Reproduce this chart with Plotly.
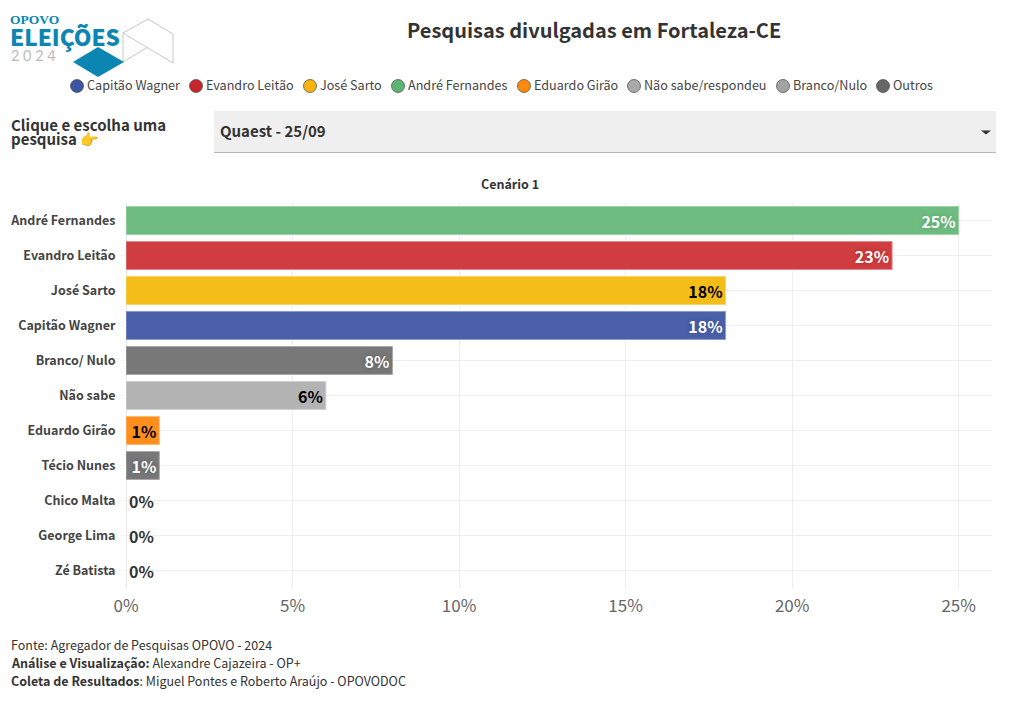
import plotly.graph_objects as go

W, H = 1020, 701
FONT = "Noto Sans CJK SC"
LEFT, RIGHT, TOP, BOTTOM = 126, 992, 203, 588

candidates = ["André Fernandes", "Evandro Leitão", "José Sarto", "Capitão Wagner", "Branco/ Nulo",
              "Não sabe", "Eduardo Girão", "Técio Nunes", "Chico Malta", "George Lima", "Zé Batista"]
values = [25, 23, 18, 18, 8, 6, 1, 1, 0, 0, 0]
bar_colors = ["#6fbc81", "#cf3d40", "#f4bd17", "#4a60a8", "#787878", "#b3b3b3", "#ff8f1c", "#787878",
              "#999999", "#999999", "#999999"]
bar_edges = ["#9fd3ab", "#e2898b", "#f8d468", "#8c9bc9", "#a9a9a9", "#d0d0d0", "#ffbb73", "#a9a9a9",
             "#e6e6e6", "#e6e6e6", "#e6e6e6"]
label_colors = ["#ffffff", "#ffffff", "#000000", "#ffffff", "#ffffff", "#000000", "#000000", "#ffffff",
                "#333333", "#333333", "#333333"]
label_shadows = ["0 0 4px #55a068", "0 0 4px #b02528", "none", "0 0 4px #35488f", "0 0 4px #555555", "none",
                 "none", "0 0 4px #555555", "none", "none", "none"]
legend_names = ["Capitão Wagner", "Evandro Leitão", "José Sarto", "André Fernandes", "Eduardo Girão",
                "Não sabe/respondeu", "Branco/Nulo", "Outros"]
legend_colors = ["#3b54a4", "#c8242b", "#f6b50e", "#5db574", "#ff8a0c", "#aaaaaa", "#a3a3a3", "#666666"]
legend_x = [77, 196, 310, 398, 524, 634, 783, 883]
x_ticks = [0, 5, 10, 15, 20, 25]
x_labels = ["0%", "5%", "10%", "15%", "20%", "25%"]
prompt_lines = ["<b>Clique e escolha uma</b>", "<b>pesquisa 👉</b>"]
footer_lines = ["Fonte: Agregador de Pesquisas OPOVO - 2024",
                "<b>Análise e Visualização:</b> Alexandre Cajazeira - OP+",
                "<b>Coleta de Resultados</b>: Miguel Pontes e Roberto Araújo - OPOVODOC"]


def px(x):
    return (x - LEFT) / (RIGHT - LEFT)


def py(y):
    return (BOTTOM - y) / (BOTTOM - TOP)


fig = go.Figure(go.Bar(
    x=values, y=candidates, orientation="h",
    marker=dict(color=bar_colors, line=dict(width=1, color=bar_edges)),
    text=[f"{v}%" for v in values],
    textposition=["inside" if v else "outside" for v in values],
    insidetextanchor="end",
    constraintext="none",
    cliponaxis=False,
    textangle=0,
    textfont=dict(family=FONT, size=16, color=label_colors, weight=700, shadow=label_shadows),
    hoverinfo="skip",
))

shapes = []
annotations = []


def text(x, y, s, size, color="#333333", anchor="left", family=FONT, weight=None):
    annotations.append(dict(xref="paper", yref="paper", x=px(x), y=py(y), text=s, showarrow=False,
                            xanchor=anchor, yanchor="middle", align="center" if anchor == "center" else anchor,
                            font=dict(family=family, size=size, color=color, weight=weight),
                            borderpad=0, borderwidth=0))


def poly(points, close=" Z", **kw):
    path = "M" + " L".join(f"{px(a):.5f},{py(b):.5f}" for a, b in points) + close
    shapes.append(dict(type="path", xref="paper", yref="paper", path=path, **kw))


# Logo
grey_line = dict(color="#c8c8c8", width=1)
poly([(123, 33), (148, 19), (173, 34), (173, 63), (123, 33), (123, 62), (148, 47)], close="", line=grey_line)
poly([(73, 62), (98, 47), (124, 62), (98, 77)], fillcolor="#0b86b3", line=dict(width=0))
text(10, 20, "<b>OPOVO</b>", 13.5, "#0b86b3", family="Liberation Serif")
text(10, 36, "ELEIÇÕES", 22.5, "#0b86b3", weight=900)
text(11, 55, "2 0 2 4", 14.5, "#bbbbbb", family="Lato")

# Title and subtitle
text(594, 30, "<b>Pesquisas divulgadas em Fortaleza-CE</b>", 20, "#333333", anchor="center")
text(510, 183, "<b>Cenário 1</b>", 12.5, "#333333", anchor="center")

# Colour key
for name, color, x in zip(legend_names, legend_colors, legend_x):
    shapes.append(dict(type="circle", xref="paper", yref="paper", x0=px(x - 6.5), x1=px(x + 6.5),
                       y0=py(92.5), y1=py(79.5), fillcolor=color, line=dict(color="#444444", width=0.7)))
    text(x + 10, 85, name, 12.6, "#444444")

# Selector
for line, y in zip(prompt_lines, [124, 138.5]):
    text(10.5, y, line, 15, "#333333")
shapes.append(dict(type="rect", xref="paper", yref="paper", x0=px(214), x1=px(996), y0=py(152), y1=py(111),
                   fillcolor="#efefef", line=dict(width=0)))
shapes.append(dict(type="line", xref="paper", yref="paper", x0=px(214), x1=px(996), y0=py(152.5), y1=py(152.5),
                   line=dict(color="#b5b5b5", width=1)))
poly([(981, 130.5), (991, 130.5), (986, 134.5)], fillcolor="#333333", line=dict(width=0))
text(220, 130.5, "<b>Quaest - 25/09</b>", 15, "#333333")

# Footer
for line, y in zip(footer_lines, [644, 662, 680]):
    text(10.5, y, line, 12.5, "#333333")

fig.update_layout(
    width=W, height=H, autosize=False,
    margin=dict(l=LEFT, r=W - RIGHT, t=TOP, b=H - BOTTOM, pad=0),
    paper_bgcolor="white", plot_bgcolor="white",
    bargap=0.2, showlegend=False,
    font=dict(family=FONT),
    shapes=shapes, annotations=annotations,
    xaxis=dict(range=[0, 26], tickvals=x_ticks, ticktext=x_labels, showgrid=True, gridcolor="#eeeeee",
               gridwidth=1, zeroline=True, zerolinecolor="#e6e6e6", zerolinewidth=1, automargin=False,
               tickfont=dict(family=FONT, size=17, color="#666666"), ticks="outside", ticklen=3,
               tickcolor="rgba(0,0,0,0)", showline=False, fixedrange=True),
    yaxis=dict(categoryorder="array", categoryarray=candidates[::-1], showgrid=True, gridcolor="#eeeeee",
               gridwidth=1, zeroline=False, ticks="outside", ticklen=7, tickcolor="rgba(238,238,238,0.6)",
               automargin=False, tickfont=dict(family=FONT, size=12.5, color="#444444", weight=700),
               fixedrange=True),
)

fig.write_html("out.html", config={"displayModeBar": False},
               post_script="document.body.style.margin='0';")
